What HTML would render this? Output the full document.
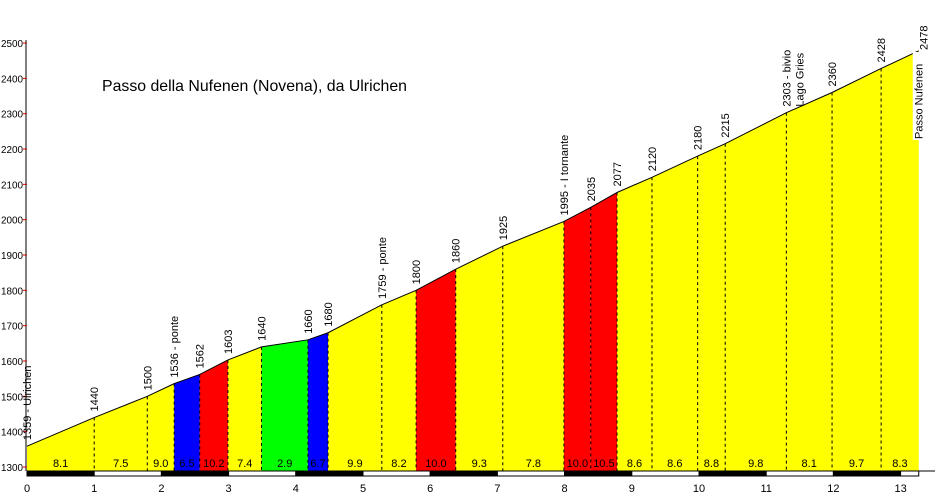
<!DOCTYPE html>
<html><head><meta charset="utf-8"><style>
body{margin:0;background:#fff}
svg{display:block;font-family:"Liberation Sans",Arial,sans-serif}
</style></head><body>
<svg id="c" width="935" height="500"></svg>
<script>
const kms=[0,1.0,1.79,2.19,2.57,2.99,3.49,4.18,4.48,5.28,5.79,6.38,7.08,7.99,8.39,8.78,9.30,9.98,10.39,11.30,11.98,12.71,13.27];
const elevs=[1359,1440,1500,1536,1562,1603,1640,1660,1680,1759,1800,1860,1925,1995,2035,2077,2120,2180,2215,2303,2360,2428,2478];
const labels=["1359 - Ulrichen","1440","1500","1536 - ponte","1562","1603","1640","1660","1680","1759 - ponte","1800","1860","1925","1995 - I tornante","2035","2077","2120","2180","2215","2303 - bivio|Lago Gries","2360","2428","2478"];
const grades=["8.1","7.5","9.0","6.5","10.2","7.4","2.9","6.7","9.9","8.2","10.0","9.3","7.8","10.0","10.5","8.6","8.6","8.8","9.8","8.1","9.7","8.3"];
const colors=["y","y","y","b","r","y","g","b","y","y","r","y","y","r","r","y","y","y","y","y","y","y"];
const yTicks=[1300,1400,1500,1600,1700,1800,1900,2000,2100,2200,2300,2400,2500];
const xTicks=[0,1,2,3,4,5,6,7,8,9,10,11,12,13];
const X=k=>27+k*67.2;
const Y=e=>467-(e-1300)*0.3533;
const svg=document.getElementById('c');
const NS='http://www.w3.org/2000/svg';
function mk(t,a,p){const e=document.createElementNS(NS,t);for(const k in a)e.setAttribute(k,a[k]);(p||svg).appendChild(e);return e;}
const cmap={y:"#ffff00",b:"#0000ff",r:"#ff0000",g:"#00ff00"};
const base=471;
for(let i=0;i<grades.length;i++){
  const x1=X(kms[i]),x2=X(kms[i+1]);
  const s=mk('polygon',{points:`${x1},${base} ${x1},${Y(elevs[i])} ${x2},${Y(elevs[i+1])} ${x2},${base}`,fill:cmap[colors[i]]});
  
  
  const t=mk('text',{x:(x1+x2)/2,y:467,'font-size':11,'text-anchor':'middle'});
  t.textContent=grades[i];
  
  
}
for(let i=1;i<kms.length-1;i++){
  const l=mk('line',{x1:X(kms[i]),x2:X(kms[i]),y1:Y(elevs[i]),y2:base,stroke:'#000','stroke-dasharray':'3,3'});
  
  
}
const pl=mk('polyline',{points:kms.map((k,i)=>X(k)+','+Y(elevs[i])).join(' '),fill:'none',stroke:'#000','stroke-width':1});


mk('line',{x1:26,x2:26,y1:40,y2:471,stroke:'#000'});
yTicks.forEach(v=>{
  mk('line',{x1:23,x2:27,y1:Y(v),y2:Y(v),stroke:'#d00'});
  const t=mk('text',{x:1,y:Y(v)+4,'font-size':10,textLength:22,lengthAdjust:'spacingAndGlyphs'});t.textContent=v;
  
  
});
for(let k=0;k<13.3;k++){
  const w=Math.min(1,13.27-k);
  mk('rect',{x:X(k),y:471,width:w*67.2,height:5,fill:k%2?'#fff':'#000',stroke:'#000','stroke-width':1});
}
mk('line',{x1:919,x2:935,y1:471,y2:471,stroke:'#000'});
xTicks.forEach(v=>{
  const t=mk('text',{x:X(v),y:492,'font-size':11,'text-anchor':'middle'});t.textContent=v;
  
  
});
labels.forEach((s,i)=>{
  const x=X(kms[i]),y=Y(elevs[i])-6;
  const parts=s.split('|');
  if(i===labels.length-1){
    mk('rect',{x:x-6,y:52,width:14,height:88,fill:'#fff'});
    const t0=mk('text',{transform:`translate(${x+9},${50}) rotate(-90)`,'font-size':11});t0.textContent='2478';
    const t=mk('text',{transform:`translate(${x+4},${139}) rotate(-90)`,'font-size':11});t.textContent='Passo Nufenen';
    
    
    return;
  }
  parts.forEach((p,j)=>{
    const t=mk('text',{transform:`translate(${x+4+j*13},${y}) rotate(-90)`,'font-size':11});
    t.textContent=p;
    
    
  });
});
const title=mk('text',{x:102,y:91,'font-size':16,textLength:305,lengthAdjust:'spacingAndGlyphs'});
title.textContent='Passo della Nufenen (Novena), da Ulrichen';


</script>
</body></html>
